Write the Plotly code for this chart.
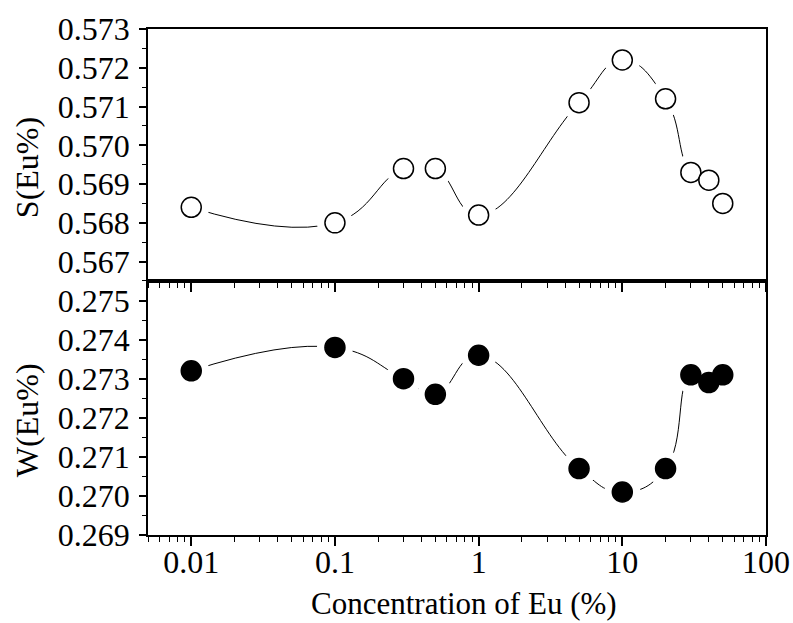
import math
import plotly.graph_objects as go

conc = [0.01, 0.1, 0.3, 0.5, 1, 5, 10, 20, 30, 40, 50]
s_vals = [0.5684, 0.5680, 0.5694, 0.5694, 0.5682, 0.5711, 0.5722, 0.5712, 0.5693, 0.5691, 0.5685]
w_vals = [0.2732, 0.2738, 0.2730, 0.2726, 0.2736, 0.2707, 0.2701, 0.2707, 0.2731, 0.2729, 0.2731]
x_tickvals = [0.01, 0.1, 1, 10, 100]
x_ticktext = ["0.01", "0.1", "1", "10", "100"]
s_ticks = [0.567, 0.568, 0.569, 0.570, 0.571, 0.572, 0.573]
w_ticks = [0.269, 0.270, 0.271, 0.272, 0.273, 0.274, 0.275]

FONT = "'Liberation Serif', 'Times New Roman', Times, serif"
fig = go.Figure()

def add_panel(yvals, xa, ya, filled):
    fig.add_trace(go.Scatter(x=conc, y=yvals, mode="lines", xaxis=xa, yaxis=ya,
                             line=dict(color="black", width=1, shape="spline", smoothing=1.3),
                             showlegend=False, hoverinfo="skip"))
    fig.add_trace(go.Scatter(x=conc, y=yvals, mode="markers", xaxis=xa, yaxis=ya,
                             marker=dict(symbol="circle", size=36, color="white", line=dict(width=0)),
                             showlegend=False, hoverinfo="skip"))
    fig.add_trace(go.Scatter(x=conc, y=yvals, mode="markers", xaxis=xa, yaxis=ya,
                             marker=dict(symbol="circle", size=20,
                                         color="black" if filled else "white",
                                         line=dict(color="black", width=1.5)),
                             showlegend=False))

add_panel(s_vals, "x2", "y2", False)
add_panel(w_vals, "x", "y", True)

tickfont = dict(family=FONT, size=32, color="black")
xcommon = dict(type="log", range=[math.log10(0.005), 2], showline=True, linecolor="black",
               linewidth=1.5, mirror=True, ticks="outside", ticklen=9, tickwidth=1.5,
               tickcolor="black", tickvals=x_tickvals, ticktext=x_ticktext, showgrid=False,
               zeroline=False, tickfont=tickfont, ticklabelstandoff=-11, automargin=False,
               minor=dict(ticks="outside", ticklen=5, tickwidth=1.2, tickcolor="black",
                          dtick="D1", showgrid=False))
ycommon = dict(showline=True, linecolor="black", linewidth=1.5, mirror=True, ticks="outside",
               ticklen=7, tickwidth=1.5, tickcolor="black", showgrid=False, zeroline=False,
               tickfont=tickfont, tickformat=".3f", ticklabelstandoff=3, automargin=False,
               minor=dict(ticks="outside", ticklen=4, tickwidth=1.2, tickcolor="black",
                          dtick=0.0005, showgrid=False))

fig.update_layout(
    width=793, height=623, autosize=False,
    margin=dict(l=148, r=27, t=29, b=88),
    plot_bgcolor="white", paper_bgcolor="white",
    xaxis=dict(xcommon, anchor="y", domain=[0, 1]),
    xaxis2=dict(xcommon, anchor="y2", domain=[0, 1], showticklabels=False, matches="x"),
    yaxis=dict(ycommon, anchor="x", domain=[0, 0.502], range=[0.269, 0.2755], tickvals=w_ticks),
    yaxis2=dict(ycommon, anchor="x2", domain=[0.502, 1], range=[0.5665, 0.573], tickvals=s_ticks),
    annotations=[
        dict(text="S(Eu%)", textangle=-90, xref="paper", yref="paper", x=0, y=0.725,
             xshift=-121, xanchor="center", yanchor="middle", showarrow=False,
             font=dict(family=FONT, size=32, color="black")),
        dict(text="W(Eu%)", textangle=-90, xref="paper", yref="paper", x=0, y=0.227,
             xshift=-121, xanchor="center", yanchor="middle", showarrow=False,
             font=dict(family=FONT, size=32, color="black")),
        dict(text="Concentration of Eu (%)", xref="paper", yref="paper", x=0.511, y=0,
             yshift=-68, xanchor="center", yanchor="middle", showarrow=False,
             font=dict(family=FONT, size=31, color="black")),
    ],
)

fig.write_html("out.html",
               config={"responsive": False, "displayModeBar": False},
               post_script="document.body.style.margin='0';document.documentElement.style.overflow='hidden';")
